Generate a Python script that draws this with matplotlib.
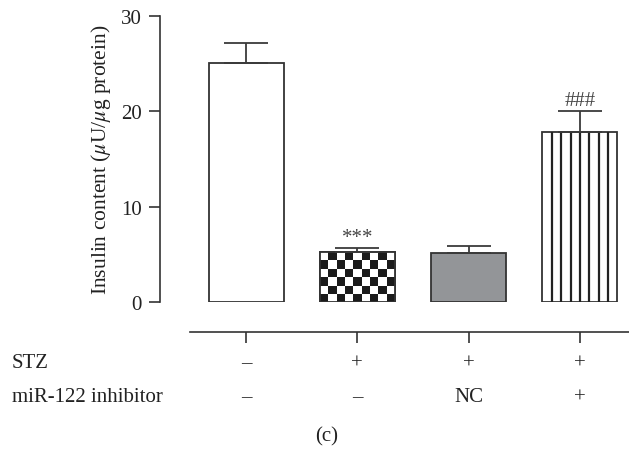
import numpy as np
import matplotlib
matplotlib.use("Agg")
import matplotlib.pyplot as plt
from matplotlib.transforms import blended_transform_factory

plt.rcParams['font.family'] = ['Liberation Serif', 'DejaVu Serif']
plt.rcParams['mathtext.fontset'] = 'stix'

# ---- data ----
groups = ["Control", "STZ", "STZ+NC", "STZ+inhibitor"]
means = [25.1, 5.2, 5.1, 17.8]
errs = [2.1, 0.5, 0.8, 2.2]
annotations = ["", "***", "", "###"]
stz_row = ["\u2013", "+", "+", "+"]
inhib_row = ["\u2013", "\u2013", "NC", "+"]
row_labels = ["STZ", "miR-122 inhibitor"]
yticks = [0, 10, 20, 30]
caption = "(c)"

W, H = 629, 452
fig = plt.figure(figsize=(W / 100, H / 100), dpi=100)
ink = "#333333"
txt = "#222222"

def fx(px):
    return px / W

def fy(py):
    return 1 - py / H

ax_left, ax_right = 160, 629
ax_top, ax_bot = 17, 303
ax = fig.add_axes([fx(ax_left), fy(ax_bot), fx(ax_right - ax_left), (ax_bot - ax_top) / H])

x = np.arange(len(groups))
spacing = 111.3
xl = -(246 - ax_left) / spacing
xr = xl + (ax_right - ax_left) / spacing
ax.set_xlim(xl, xr)
ax.set_ylim(0, 30)
bw = 75 / spacing
px_per_unit_y = (ax_bot - ax_top) / 30

facecolors = ["white", "white", "#939598", "white"]
bars = ax.bar(x, means, width=bw, color=facecolors, edgecolor=ink, linewidth=1.3, zorder=2)

# checkerboard pattern on bar 2
b = bars[1]
x0, y0 = b.get_x(), b.get_y()
bwid, bh = b.get_width(), b.get_height()
nx = 9
sq_px = 75 / nx
sq_h = sq_px / px_per_unit_y
ny = int(np.ceil(bh / sq_h)) + 1
board = (np.add.outer(np.arange(ny), np.arange(nx)) % 2).astype(float)
im = ax.imshow(board[::-1], cmap="gray_r", vmin=0, vmax=1.12,
               extent=(x0, x0 + bwid, y0 + bh - ny * sq_h, y0 + bh),
               origin="lower", aspect="auto", interpolation="nearest", zorder=2.5)
im.set_clip_path(b)
ax.bar([x[1]], [means[1]], width=bw, color="none", edgecolor=ink, linewidth=1.3, zorder=3)

# vertical stripes on bar 4
b = bars[3]
x0, bwid, bh = b.get_x(), b.get_width(), b.get_height()
nstripe = 8
for k in range(1, nstripe):
    ax.plot([x0 + k * bwid / nstripe] * 2, [0, bh], color="#222222", lw=1.6, zorder=2.6,
            solid_capstyle="butt")

# error bars (upper only)
ax.errorbar(x, means, yerr=[np.zeros(len(errs)), errs], fmt="none", ecolor="#3a3a3a",
            elinewidth=1.3, capsize=15.5, capthick=1.3, zorder=4)

for xi, m, e, t in zip(x, means, errs, annotations):
    if t:
        ax.text(xi, m + e + 0.1, t, ha="center", va="bottom", fontsize=15, color="#444444")

for s in ["top", "right", "bottom"]:
    ax.spines[s].set_visible(False)
ax.spines["left"].set_color(ink)
ax.spines["left"].set_linewidth(1.2)
ax.set_xticks([])
ax.set_yticks(yticks)
ax.tick_params(axis="y", length=8, width=1.2, color=ink, labelsize=15, labelcolor=txt, pad=5)
ax.set_ylabel(r"Insulin content ($\mu$U/$\mu$g protein)", fontsize=15.5, color=txt, labelpad=6)

# separate x axis line with ticks
line_y = 333
ax2 = fig.add_axes([fx(ax_left), fy(line_y), fx(ax_right - ax_left), 0.001])
ax2.set_xlim(xl, xr)
ax2.patch.set_visible(False)
for s in ["top", "right", "left"]:
    ax2.spines[s].set_visible(False)
ax2.spines["bottom"].set_bounds(xl + (190 - ax_left) / spacing, xr)
ax2.spines["bottom"].set_color(ink)
ax2.spines["bottom"].set_linewidth(1.2)
ax2.set_yticks([])
ax2.set_xticks(x)
ax2.set_xticklabels([])
ax2.tick_params(axis="x", length=8, width=1.2, color=ink, direction="out")

trans = blended_transform_factory(ax.transData, fig.transFigure)
row_y = [364, 398]
for row, py in zip([stz_row, inhib_row], row_y):
    for xi, t in zip(x, row):
        ax.text(xi, fy(py), t, transform=trans, ha="center", va="center", fontsize=15, color=txt)
for lab, py in zip(row_labels, row_y):
    fig.text(fx(12), fy(py), lab, ha="left", va="center", fontsize=15, color=txt)
fig.text(fx(327), fy(437), caption, ha="center", va="center", fontsize=15, color=txt)

fig.savefig("out.png", dpi=100)
